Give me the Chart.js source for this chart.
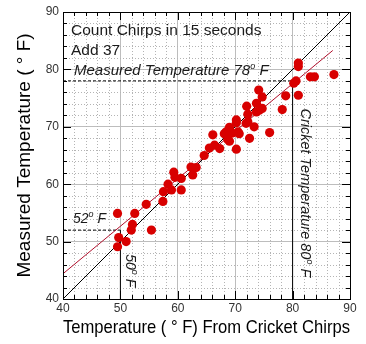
<!DOCTYPE html>
<html>
<head>
<meta charset="utf-8">
<script src="https://cdn.jsdelivr.net/npm/chart.js@4"></script>
<style>body{margin:0;background:#fff}</style>
</head>
<body>
<canvas id="chirpChart" width="366" height="344"></canvas>
<script>
// temperature from chirps (x) against measured temperature (y)
var chirpTemp = [49.5, 49.7, 51.0, 49.5, 51.9, 52.1, 52.5, 55.4, 54.5, 57.4,
                 57.5, 58.9, 60.6, 58.3, 59.3, 59.5, 60.6, 62.6, 62.3, 63.2,
                 64.6, 65.5, 66.4, 67.3, 70.2, 66.1, 68.1, 68.7, 69.0, 68.4,
                 69.5, 70.5, 70.7, 69.0, 70.2, 72.5, 73.3, 76.0, 72.2, 70.2,
                 72.2, 73.7, 74.2, 72.0, 73.7, 74.7, 74.1, 78.2, 78.8, 81.0,
                 80.2, 80.6, 81.0, 81.0, 83.1, 83.8, 87.2, 71.9, 74.7];
var measuredTemp = [49.1, 50.7, 50.0, 54.9, 52.0, 53.0, 54.9, 52.0, 56.5, 57.0,
                    58.7, 59.0, 59.0, 60.0, 62.1, 61.2, 61.0, 61.6, 63.0, 62.9,
                    65.0, 66.3, 66.8, 66.2, 66.1, 68.6, 68.8, 67.8, 67.5, 69.1,
                    68.9, 69.1, 68.8, 69.9, 70.7, 68.0, 70.0, 69.0, 70.9, 71.2,
                    72.2, 72.6, 72.9, 73.6, 74.1, 75.2, 76.4, 73.0, 75.4, 75.5,
                    77.6, 78.0, 80.5, 81.1, 78.7, 78.7, 79.1, 70.6, 73.2];
var tickValues = [40, 50, 60, 70, 80, 90];
var identityX = [40, 90];
var fitX = [40, 87];
var fitY = [44.4, 83.3];
var markChirp = [50, 80];
var markMeasured = [52, 78];

var points = chirpTemp.map(function(x, i) { return {x: x, y: measuredTemp[i]} })
function seg(xs, ys) { return [{x: xs[0], y: ys[0]}, {x: xs[1], y: ys[1]}] }

var lineStyle = {showLine: true, pointRadius: 0, borderWidth: 1, fill: false}

var datasets = [
    {data: points, backgroundColor: '#d80000', borderWidth: 0, pointRadius: 4.6, pointHoverRadius: 4.6},
    Object.assign({data: seg(identityX, identityX), borderColor: '#000'}, lineStyle),
    Object.assign({data: seg(fitX, fitY), borderColor: '#b0102c'}, lineStyle),
    Object.assign({data: seg([tickValues[0], markChirp[1]], [markMeasured[1], markMeasured[1]]), borderColor: '#000', borderDash: [3, 2]}, lineStyle),
    Object.assign({data: seg([markChirp[1], markChirp[1]], [tickValues[0], markMeasured[1]]), borderColor: '#000'}, lineStyle),
    Object.assign({data: seg([tickValues[0], markChirp[0]], [markMeasured[0], markMeasured[0]]), borderColor: '#000', borderDash: [3, 2]}, lineStyle),
    Object.assign({data: seg([markChirp[0], markChirp[0]], [tickValues[0], markMeasured[0]]), borderColor: '#000'}, lineStyle)
]

function degText(ctx, parts, x, y, size) {
    // parts: [before, after] with a superscript o between them
    ctx.font = 'italic ' + size + 'px Arial'
    ctx.fillText(parts[0], x, y)
    var w = ctx.measureText(parts[0]).width
    ctx.font = 'italic ' + Math.round(size * 0.62) + 'px Arial'
    ctx.fillText('o', x + w, y - size * 0.42)
    var w2 = ctx.measureText('o').width
    ctx.font = 'italic ' + size + 'px Arial'
    ctx.fillText(parts[1], x + w + w2, y)
}

var framePlugin = {
    id: 'frame',
    beforeDatasetsDraw: function(chart) {
        var ctx = chart.ctx, a = chart.chartArea, sx = chart.scales.x, sy = chart.scales.y
        ctx.save()
        ctx.strokeStyle = '#b4b4b4'
        ctx.lineWidth = 1
        ctx.setLineDash([1, 2])
        for (var v = 42; v < 90; v += 2) {
            if (v % 10 === 0) continue
            var px = Math.round(sx.getPixelForValue(v)) + 0.5
            var py = Math.round(sy.getPixelForValue(v)) + 0.5
            ctx.beginPath(); ctx.moveTo(px, a.top); ctx.lineTo(px, a.bottom); ctx.stroke()
            ctx.beginPath(); ctx.moveTo(a.left, py); ctx.lineTo(a.right, py); ctx.stroke()
        }
        ctx.restore()
    },
    afterDatasetsDraw: function(chart) {
        var ctx = chart.ctx, a = chart.chartArea, sx = chart.scales.x, sy = chart.scales.y
        ctx.save()
        ctx.strokeStyle = '#000'
        ctx.lineWidth = 1
        ctx.strokeRect(Math.round(a.left) + 0.5, Math.round(a.top) + 0.5, Math.round(a.right - a.left), Math.round(a.bottom - a.top))
        for (var v = 42; v < 90; v += 2) {
            var len = v % 10 === 0 ? 8 : 4
            var px = Math.round(sx.getPixelForValue(v)) + 0.5
            var py = Math.round(sy.getPixelForValue(v)) + 0.5
            ctx.beginPath()
            ctx.moveTo(px, a.bottom); ctx.lineTo(px, a.bottom - len)
            ctx.moveTo(px, a.top); ctx.lineTo(px, a.top + len)
            ctx.moveTo(a.left, py); ctx.lineTo(a.left + len, py)
            ctx.moveTo(a.right, py); ctx.lineTo(a.right - len, py)
            ctx.stroke()
        }

        ctx.fillStyle = '#1a1a1a'
        ctx.textBaseline = 'alphabetic'
        ctx.textAlign = 'left'
        ctx.font = '15.5px Arial'
        ctx.fillText('Count Chirps in 15 seconds', a.left + 8, a.top + 23)
        ctx.fillText('Add 37', a.left + 8, a.top + 43)
        degText(ctx, ['Measured Temperature 78', ' F'], a.left + 11, a.top + 63, 15)
        degText(ctx, ['52', ' F'], a.left + 10, a.top + 211, 14)

        ctx.save()
        ctx.translate(sx.getPixelForValue(markChirp[0]) + 6, sy.getPixelForValue(47.8))
        ctx.rotate(Math.PI / 2)
        degText(ctx, ['50', ' F'], 0, 0, 14)
        ctx.restore()

        ctx.save()
        ctx.translate(sx.getPixelForValue(markChirp[1]) + 8, sy.getPixelForValue(73.2))
        ctx.rotate(Math.PI / 2)
        degText(ctx, ['Cricket Temperature 80', ' F'], 0, 0, 14.5)
        ctx.restore()

        ctx.restore()
    }
}

function axis(titleText, padTop, padBottom) {
    return {
        type: 'linear',
        min: 40,
        max: 90,
        afterBuildTicks: function(scale) {
            scale.ticks = tickValues.map(function(v) { return {value: v} })
        },
        ticks: {color: '#333', font: {family: 'Arial', size: 12}, padding: 4},
        grid: {color: '#bdbdbd', drawTicks: false},
        border: {display: false},
        title: {display: true, text: titleText, color: '#000', font: {family: 'Arial', size: 19}, padding: {top: padTop, bottom: padBottom}}
    }
}

var xAxis = axis('Temperature ( \u00b0 F) From Cricket Chirps', 4, 5)
xAxis.ticks.padding = 2
xAxis.afterFit = function(scale) { scale.height = 45 }
var yAxis = axis('Measured Temperature ( \u00b0 F)', 13, 0)
yAxis.afterFit = function(scale) { scale.width = 63 }

new Chart(document.getElementById('chirpChart').getContext('2d'), {
    type: 'scatter',
    data: {datasets: datasets},
    options: {
        responsive: false,
        animation: false,
        layout: {padding: {top: 12, right: 16, left: 0, bottom: 0}},
        plugins: {legend: {display: false}, tooltip: {enabled: false}},
        scales: {x: xAxis, y: yAxis}
    },
    plugins: [framePlugin]
})
</script>
</body>
</html>
